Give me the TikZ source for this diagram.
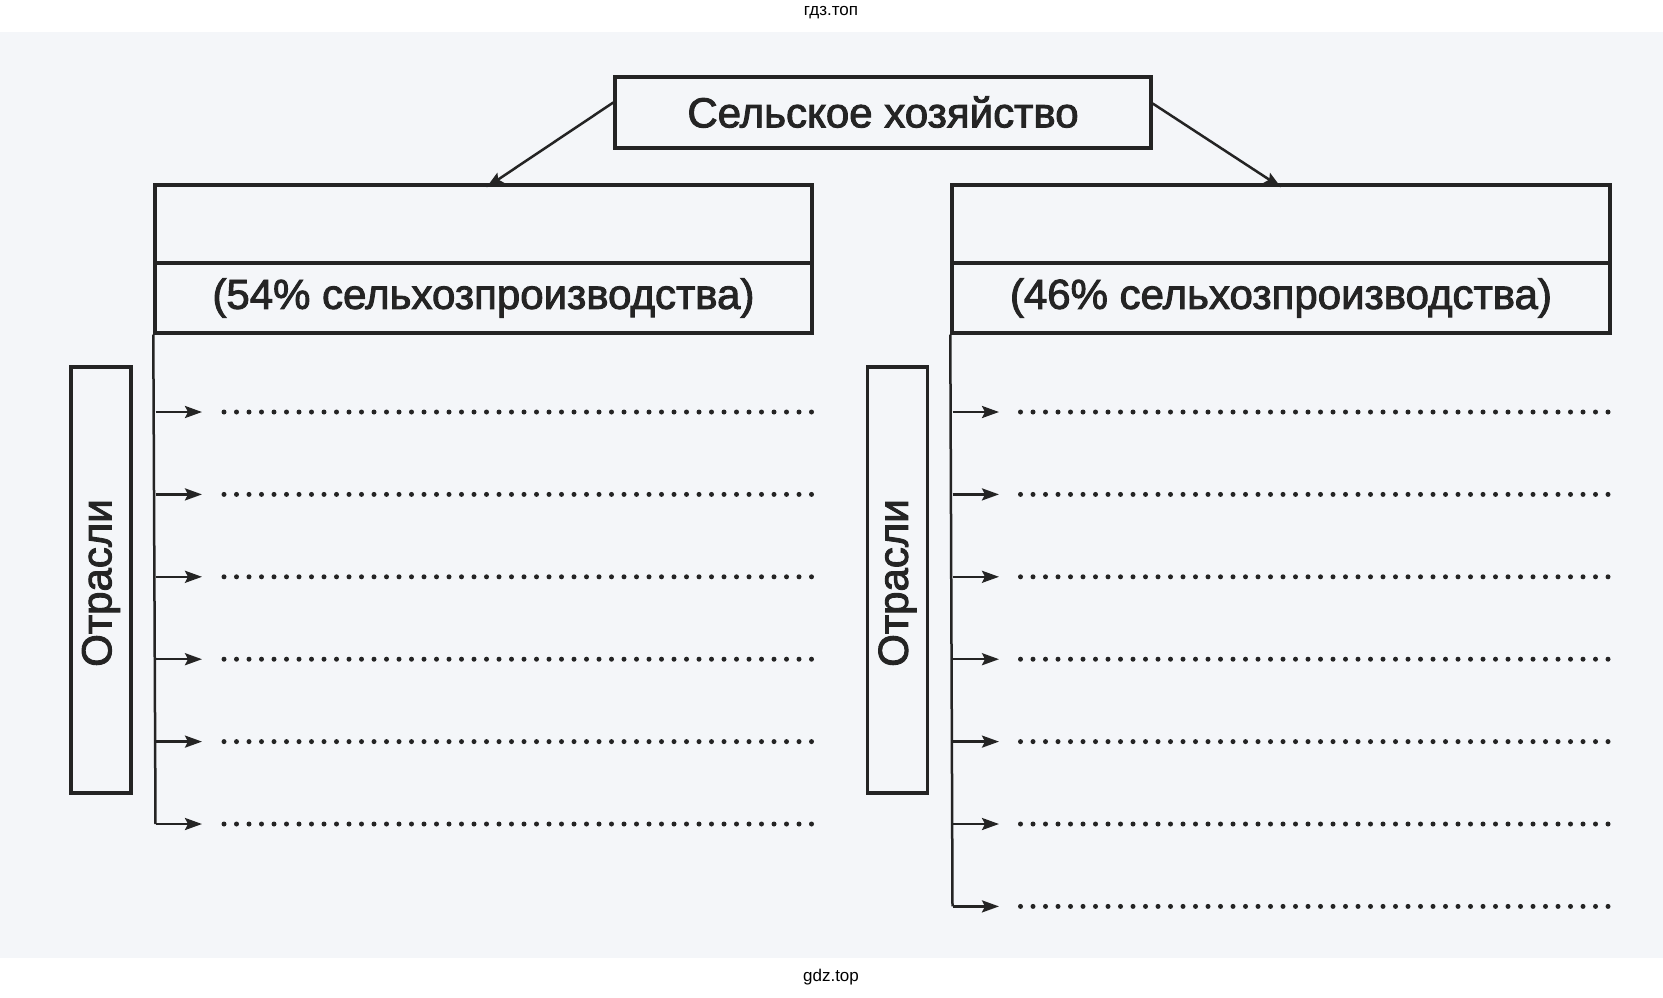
\documentclass[tikz,border=0pt]{standalone}
\usepackage{fontspec}
\setmainfont{Liberation Sans}
\font\heavyfont="Liberation Sans:embolden=2.2" at 42pt
\usetikzlibrary{arrows.meta,calc}
\definecolor{ink}{RGB}{36,36,36}
\definecolor{scanbg}{RGB}{244,246,249}
\begin{document}
\begin{tikzpicture}[x=1pt,y=-1pt,
  box/.style={draw=ink,line width=3.4pt,inner sep=0pt},
  lbl/.style={text=ink,font=\heavyfont,inner sep=0pt},
  ln/.style={draw=ink,line width=2.5pt},
  arr/.style={draw=ink,line width=2.5pt,-{Stealth[length=17pt,width=12pt,inset=3pt]}},
  dots/.style={draw=ink,line width=5pt,line cap=round,dash pattern=on 0pt off 12.5pt},
  wm/.style={text=black,font=\fontsize{17}{19}\selectfont,inner sep=0pt}]
\useasboundingbox (0,0) rectangle (1663,997);
\fill[white] (0,0) rectangle (1663,997);
\fill[scanbg] (0,32) rectangle (1663,958);
% watermarks
\node[wm] (wtop) at (831,13) {гдз.топ};
\node[wm] (wbot) at (831,977) {gdz.top};
% top box
\node[box,minimum width=536pt,minimum height=71pt] (top) at (883,112.5) {};
\node[lbl] (toptxt) at (883,112) {Сельское хозяйство};
% left box
\node[box,minimum width=657pt,minimum height=148pt] (L) at (483.5,259) {};
\draw[box] (L.west |- 0,263) coordinate (Ldl) -- (L.east |- 0,263) coordinate (Ldr);
\node[lbl] (Ltxt) at (483.5,298) {(54\% сельхозпроизводства)};
% right box
\node[box,minimum width=658pt,minimum height=148pt] (R) at (1281,259) {};
\draw[box] (R.west |- 0,263) coordinate (Rdl) -- (R.east |- 0,263) coordinate (Rdr);
\node[lbl] (Rtxt) at (1281,298) {(46\% сельхозпроизводства)};
% arrows from top
\draw[arr] ([yshift=10pt]top.west) -- ([xshift=3pt,yshift=-4pt]L.north);
\draw[arr] ([yshift=9pt]top.east) -- ([yshift=-4pt]R.north);
% branch boxes
\node[box,rotate=90,minimum width=426pt,minimum height=60pt] (Lo) at (101,580) {};
\node[lbl,rotate=90] (Lotxt) at (101,583) {Отрасли};
\node[box,rotate=90,minimum width=426pt,minimum height=60pt] (Ro) at (897.5,580) {};
\node[lbl,rotate=90] (Rotxt) at (897.5,583) {Отрасли};
% left branches
\foreach \k in {0,...,5}{
  \pgfmathsetmacro\yy{412+82.4*\k}
  \coordinate (la\k) at (155.5,\yy);
  \coordinate (lt\k) at (202,\yy);
  \coordinate (ls\k) at (224,\yy);
  \coordinate (le\k) at (812,\yy);
  \draw[arr] (la\k) -- (lt\k);
  \draw[dots] (ls\k) -- (le\k);
}
\draw[ln] (L.south west) -- (la5);
% right branches
\foreach \k in {0,...,6}{
  \pgfmathsetmacro\yy{412+82.4*\k}
  \coordinate (ra\k) at (952.5,\yy);
  \coordinate (rt\k) at (999,\yy);
  \coordinate (rs\k) at (1020.5,\yy);
  \coordinate (re\k) at (1608,\yy);
  \draw[arr] (ra\k) -- (rt\k);
  \draw[dots] (rs\k) -- (re\k);
}
\draw[ln] (R.south west) -- (ra6);
\end{tikzpicture}
\end{document}
